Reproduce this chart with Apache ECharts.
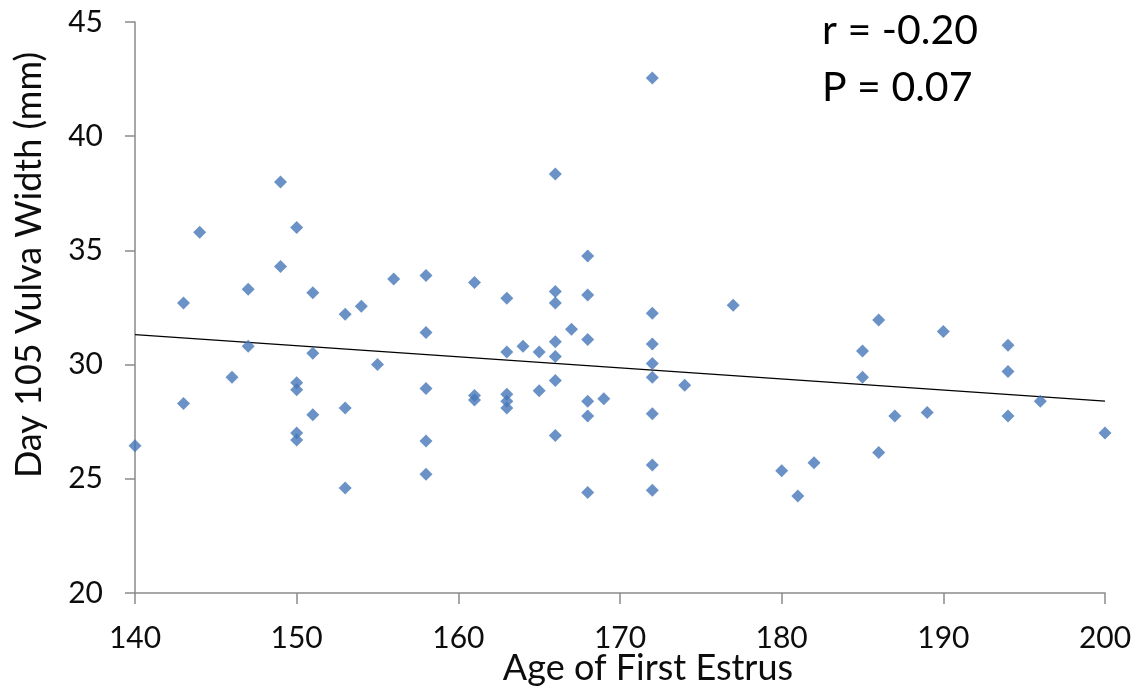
<!DOCTYPE html>
<html>
<head>
<meta charset="utf-8">
<script src="https://cdn.jsdelivr.net/npm/echarts@6/dist/echarts.min.js"></script>
<style>
  html, body { margin: 0; padding: 0; background: #fff; }
  #chart { width: 1137px; height: 695px; }
</style>
</head>
<body>
<div id="chart"></div>
<script>
// Age at first estrus (days) for each animal
const ageFirstEstrus = [
  140, 143, 143, 144, 146, 147, 147, 149, 149, 150,
  150, 150, 150, 150, 151, 151, 151, 153, 153, 153,
  154, 155, 156, 158, 158, 158, 158, 158, 161, 161,
  161, 163, 163, 163, 163, 163, 164, 165, 165, 166,
  166, 166, 166, 166, 166, 166, 167, 168, 168, 168,
  168, 168, 168, 169, 172, 172, 172, 172, 172, 172,
  172, 172, 174, 177, 180, 181, 182, 185, 185, 186,
  186, 187, 189, 190, 194, 194, 194, 196, 200
];
// Vulva width measured on day 105 (mm), same order as above
const vulvaWidthDay105 = [
  26.45, 32.7, 28.3, 35.8, 29.45, 33.3, 30.8, 38.0, 34.3, 36.0,
  29.2, 28.9, 27.0, 26.7, 33.15, 30.5, 27.8, 32.2, 28.1, 24.6,
  32.55, 30.0, 33.75, 33.9, 31.4, 28.95, 26.65, 25.2, 33.6, 28.65,
  28.45, 32.9, 30.55, 28.7, 28.4, 28.1, 30.8, 30.55, 28.85, 38.35,
  33.2, 32.7, 31.0, 30.35, 29.3, 26.9, 31.55, 34.75, 33.05, 31.1,
  28.4, 27.75, 24.4, 28.5, 42.55, 32.25, 30.9, 30.05, 29.45, 27.85,
  25.6, 24.5, 29.1, 32.6, 25.35, 24.25, 25.7, 30.6, 29.45, 31.95,
  26.15, 27.75, 27.9, 31.45, 30.85, 29.7, 27.75, 28.4, 27.0
];
const xTicks = [140, 150, 160, 170, 180, 190, 200];
const yTicks = [20, 25, 30, 35, 40, 45];
const statLines = ['r = -0.20', 'P = 0.07'];

const points = ageFirstEstrus.map((a, i) => [a, vulvaWidthDay105[i]]);

// least-squares trend line over the x-axis range
const n = points.length;
const mx = ageFirstEstrus.reduce((s, v) => s + v, 0) / n;
const my = vulvaWidthDay105.reduce((s, v) => s + v, 0) / n;
let sxy = 0, sxx = 0;
for (let i = 0; i < n; i++) {
  sxy += (ageFirstEstrus[i] - mx) * (vulvaWidthDay105[i] - my);
  sxx += (ageFirstEstrus[i] - mx) ** 2;
}
const slope = sxy / sxx;
const intercept = my - slope * mx;
const xMin = xTicks[0], xMax = xTicks[xTicks.length - 1];
const trend = [[xMin, intercept + slope * xMin], [xMax, intercept + slope * xMax]];

const FONT = 'Lato';
const axisGray = '#8a8a8a';
const textColor = '#0d0d0d';

const chart = echarts.init(document.getElementById('chart'), null, { renderer: 'canvas' });
chart.setOption({
  backgroundColor: '#ffffff',
  animation: false,
  grid: { left: 135, right: 32, top: 22, bottom: 102, containLabel: false },
  xAxis: {
    type: 'value',
    min: xMin, max: xMax, interval: xTicks[1] - xTicks[0],
    splitLine: { show: false },
    axisLine: { show: true, lineStyle: { color: axisGray, width: 1.5 } },
    axisTick: { show: true, length: 11, lineStyle: { color: axisGray, width: 1.5 } },
    axisLabel: { margin: 30, color: textColor, fontSize: 30, fontFamily: FONT }
  },
  yAxis: {
    type: 'value',
    min: yTicks[0], max: yTicks[yTicks.length - 1], interval: yTicks[1] - yTicks[0],
    splitLine: { show: false },
    axisLine: { show: true, lineStyle: { color: axisGray, width: 1.5 } },
    axisTick: { show: true, length: 10, lineStyle: { color: axisGray, width: 1.5 } },
    axisLabel: { margin: 32, color: textColor, fontSize: 30, fontFamily: FONT }
  },
  series: [
    {
      type: 'line',
      data: trend,
      symbol: 'none',
      lineStyle: { color: '#000', width: 1.3 },
      z: 2
    },
    {
      type: 'scatter',
      data: points,
      symbol: 'diamond',
      symbolSize: 13,
      itemStyle: { color: '#4677b8' },
      z: 3
    }
  ],
  graphic: [
    {
      type: 'text', x: 29, y: 265, rotation: Math.PI / 2,
      style: { text: 'Day 105 Vulva Width (mm)', font: '36px ' + FONT, fill: textColor,
               align: 'center', verticalAlign: 'middle' }
    },
    {
      type: 'text', x: 648, y: 668,
      style: { text: 'Age of First Estrus', font: '36px ' + FONT, fill: textColor,
               align: 'center', verticalAlign: 'middle' }
    },
    {
      type: 'text', x: 822, y: 31,
      style: { text: statLines[0], font: '41px ' + FONT, fill: '#000',
               align: 'left', verticalAlign: 'middle' }
    },
    {
      type: 'text', x: 822, y: 88,
      style: { text: statLines[1], font: '41px ' + FONT, fill: '#000',
               align: 'left', verticalAlign: 'middle' }
    }
  ]
});
</script>
</body>
</html>
